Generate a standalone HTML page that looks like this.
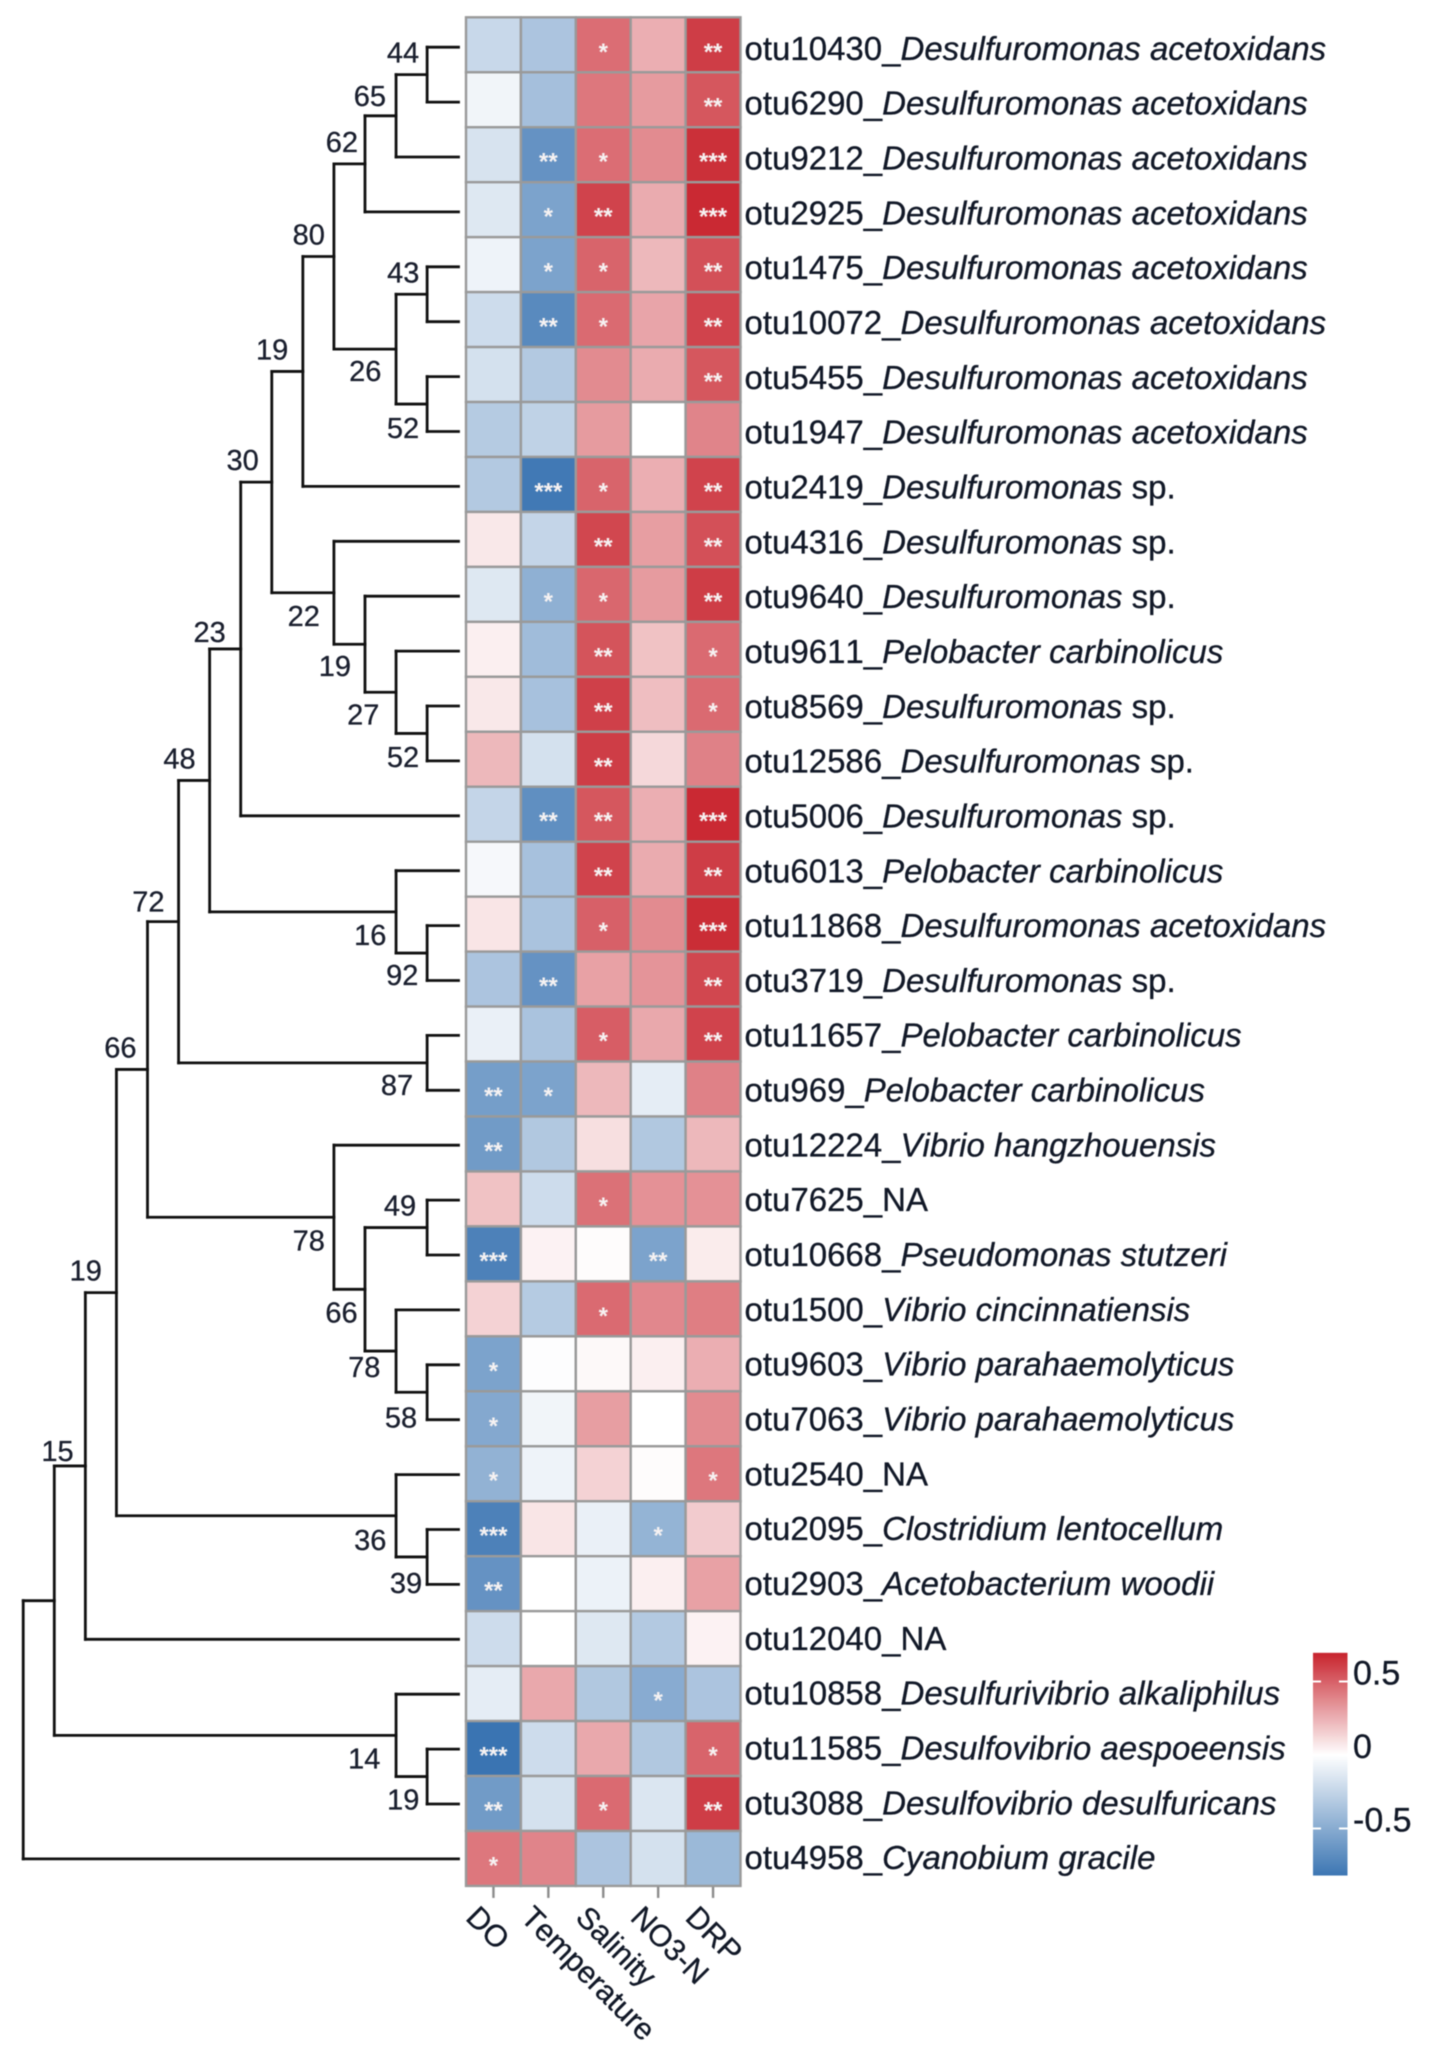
<!DOCTYPE html>
<html lang="en">
<head>
<meta charset="utf-8">
<title>OTU correlation heatmap with phylogeny</title>
<style>
html,body{margin:0;padding:0;background:#fff;}
svg{display:block;filter:blur(0.4px);}
text{font-family:"Liberation Sans",Arial,sans-serif;fill:#111827;stroke:#111827;stroke-width:0.3px;font-kerning:none;}
</style>
</head>
<body>
<svg id="chart" xmlns="http://www.w3.org/2000/svg" width="1429" height="2055" viewBox="0 0 1429 2055">
<defs><linearGradient id="legend-gradient" x1="0" y1="0" x2="0" y2="1"></linearGradient></defs>
<rect width="1429" height="2055" fill="#ffffff"></rect>
</svg>
<script>
var variables = ['DO','Temperature','Salinity','NO3-N','DRP'];
var otuIds = ['otu10430','otu6290','otu9212','otu2925','otu1475','otu10072','otu5455','otu1947','otu2419','otu4316','otu9640','otu9611','otu8569','otu12586','otu5006','otu6013','otu11868','otu3719','otu11657','otu969','otu12224','otu7625','otu10668','otu1500','otu9603','otu7063','otu2540','otu2095','otu2903','otu12040','otu10858','otu11585','otu3088','otu4958'];
var speciesNames = ['Desulfuromonas acetoxidans','Desulfuromonas acetoxidans','Desulfuromonas acetoxidans','Desulfuromonas acetoxidans','Desulfuromonas acetoxidans','Desulfuromonas acetoxidans','Desulfuromonas acetoxidans','Desulfuromonas acetoxidans','Desulfuromonas sp.','Desulfuromonas sp.','Desulfuromonas sp.','Pelobacter carbinolicus','Desulfuromonas sp.','Desulfuromonas sp.','Desulfuromonas sp.','Pelobacter carbinolicus','Desulfuromonas acetoxidans','Desulfuromonas sp.','Pelobacter carbinolicus','Pelobacter carbinolicus','Vibrio hangzhouensis','NA','Pseudomonas stutzeri','Vibrio cincinnatiensis','Vibrio parahaemolyticus','Vibrio parahaemolyticus','NA','Clostridium lentocellum','Acetobacterium woodii','NA','Desulfurivibrio alkaliphilus','Desulfovibrio aespoeensis','Desulfovibrio desulfuricans','Cyanobium gracile'];
var valuesDO = [-.23,-.06,-.17,-.14,-.07,-.21,-.18,-.31,-.32,.07,-.14,.05,.07,.22,-.25,-.04,.08,-.35,-.09,-.58,-.6,.19,-.75,.14,-.55,-.52,-.46,-.75,-.65,-.21,-.11,-.83,-.6,.42];
var valuesTemperature = [-.35,-.38,-.65,-.55,-.55,-.7,-.32,-.27,-.8,-.25,-.47,-.4,-.37,-.18,-.67,-.37,-.36,-.65,-.36,-.55,-.33,-.21,.04,-.31,-.01,-.06,-.07,.08,0,0,.27,-.21,-.18,.38];
var valuesSalinity = [.45,.42,.45,.58,.48,.46,.36,.31,.48,.57,.47,.53,.59,.6,.52,.58,.49,.29,.5,.22,.1,.44,.01,.46,.02,.3,.14,-.09,-.08,-.14,-.33,.27,.46,-.35];
var valuesNO3 = [.25,.31,.36,.26,.22,.28,.26,0,.25,.3,.31,.19,.2,.12,.25,.26,.36,.33,.27,-.11,-.33,.34,-.55,.37,.05,0,.01,-.45,.05,-.32,-.5,-.33,-.15,-.18];
var valuesDRP = [.6,.52,.64,.66,.54,.58,.52,.38,.58,.54,.6,.46,.46,.39,.66,.6,.65,.57,.58,.39,.22,.34,.06,.4,.25,.36,.42,.16,.29,.04,-.35,.48,.6,-.42];
var starsDO = [0,0,0,0,0,0,0,0,0,0,0,0,0,0,0,0,0,0,0,2,2,0,3,0,1,1,1,3,2,0,0,3,2,1];
var starsTemperature = [0,0,2,1,1,2,0,0,3,0,1,0,0,0,2,0,0,2,0,1,0,0,0,0,0,0,0,0,0,0,0,0,0,0];
var starsSalinity = [1,0,1,2,1,1,0,0,1,2,1,2,2,2,2,2,1,0,1,0,0,1,0,1,0,0,0,0,0,0,0,0,1,0];
var starsNO3 = [0,0,0,0,0,0,0,0,0,0,0,0,0,0,0,0,0,0,0,0,0,0,2,0,0,0,0,1,0,0,1,0,0,0];
var starsDRP = [2,2,3,3,2,2,2,0,2,2,2,1,1,0,3,2,3,2,2,0,0,0,0,0,0,0,1,0,0,0,0,1,2,0];
var matrixValues = [valuesDO, valuesTemperature, valuesSalinity, valuesNO3, valuesDRP];
var matrixStars = [starsDO, starsTemperature, starsSalinity, starsNO3, starsDRP];
var legendTicks = [0.5, 0, -0.5];
var legendTickLabels = ['0.5','0','-0.5'];
var legendMax = 0.695;
var legendMin = -0.82;

/* Tree: numbers are leaf indices; label, placement (-1 above / +1 below) are the printed bootstrap annotations */
function clade(label, side, gap, off, a, b){ return {label:label, side:side, gap:gap, off:off, kids:[a,b]}; }
var treeRoot =
 clade('', 0,0,0,
  clade('', 0,0,0,
   clade('15',-1,11.7,15,
    clade('19',-1,14.6,22,
     clade('66',-1,11,22,
      clade('72',-1,14,20,
       clade('48',-1,14,22,
        clade('23',-1,15,17,
         clade('30',-1,13,22,
          clade('19',-1,14.6,22,
           clade('80',-1,9,22,
            clade('62',-1,7,22,
             clade('65',-1,10,20,
              clade('44',-1,8,22,0,1),
              2),
             3),
            clade('26',1,14.7,22,
             clade('43',-1,7.7,22,4,5),
             clade('52',1,8,23.7,6,7))),
           8),
          clade('22',1,14,23,
           9,
           clade('19',1,14,22,
            10,
            clade('27',1,16.7,22,
             11,
             clade('52',1,8,23.7,12,13))))),
         14),
        clade('16',1,9.7,23,
         15,
         clade('92',1,8.7,22,16,17))),
       clade('87',1,14,22,18,19)),
      clade('78',1,9,23,
       20,
       clade('66',1,7.3,23,
        clade('49',-1,11,22,21,22),
        clade('78',1,15.7,16,
         23,
         clade('58',1,10,25,24,25))))),
     clade('36',1,9.7,24,
      26,
      clade('39',1,5,26,27,28))),
    29),
   clade('14',1,15.7,23,
    30,
    clade('19',1,7.7,23,31,32))),
  33);

var svg = document.getElementById('chart');
var NS = 'http://www.w3.org/2000/svg';
var gridLeft = 466, colWidth = 54.9, gridTop = 17.3, rowHeight = 54.96;
var leafEnd = 458.5, depthStep = 31.07, leafTop = 47.2, leafStep = 54.9;
var labelTop = 59.8, labelStep = 54.83;

function xCol(c){ return gridLeft + c * colWidth; }
function yRow(r){ return gridTop + r * rowHeight; }
function xDepth(d){ return 458.2 - d * depthStep; }
function yLeaf(i){ return leafTop + i * leafStep; }
function yLabel(i){ return labelTop + i * labelStep; }
function legendY(v){ return 1755 - v * 147; }

var posColor = [200,35,45], negColor = [58,116,178];
function colorFor(v){
  var target = v >= 0 ? posColor : negColor;
  var extent = v >= 0 ? 0.68 : -0.83;
  var f = Math.min(1, v / extent);
  return 'rgb(' + target.map(function(t){ return Math.round(255 + (t - 255) * f); }).join(',') + ')';
}
function make(tag, attrs, parent, txt){
  var el = document.createElementNS(NS, tag);
  for (var k in attrs) el.setAttribute(k, attrs[k]);
  if (txt !== undefined) el.textContent = txt;
  (parent || svg).appendChild(el);
  return el;
}

/* heatmap */
var cellLayer = make('g', {fill:'none'});


matrixValues.forEach(function(series, c){
  series.forEach(function(v, r){
    var cell = make('rect', {x:xCol(c), y:yRow(r), width:colWidth, height:rowHeight, fill:colorFor(v), stroke:'#9a9a9a', 'stroke-width':2.4}, cellLayer);
    
    
    var n = matrixStars[c][r];
    if (n > 0) {
      var star = make('text', {x:xCol(c)+colWidth/2, y:yRow(r)+rowHeight/2+15, 'text-anchor':'middle', 'font-size':24, 'font-weight':'bold', style:'fill:#f6f2f2;stroke:none'}, cellLayer, '***'.slice(0, n));
      
      
    }
  });
});

/* column ticks and labels */
variables.forEach(function(name, c){
  var cx = xCol(c) + colWidth/2;
  var tick = make('line', {x1:cx, x2:cx, y1:yRow(34)+1, y2:yRow(34)+12, stroke:'#8c8c8c', 'stroke-width':2.4});
  
  
  var lx = cx - 29, ly = 1919;
  var lab = make('text', {x:lx, y:ly, 'font-size':30.5, transform:'rotate(45 ' + lx + ' ' + ly + ')'}, svg, name);
  
  
});

/* row labels */
otuIds.forEach(function(id, r){
  var t = make('text', {x:744.5, y:yLabel(r), 'font-size':33});
  
  
  make('tspan', {}, t, id + '_');
  var sp = speciesNames[r];
  if (sp === 'NA') {
    make('tspan', {}, t, 'NA');
  } else if (/ sp\.$/.test(sp)) {
    make('tspan', {'font-style':'italic'}, t, sp.slice(0, -4));
    make('tspan', {}, t, ' sp.');
  } else {
    make('tspan', {'font-style':'italic'}, t, sp);
  }
});

/* dendrogram */
var treeLayer = make('g', {stroke:'#111111', 'stroke-width':2.8, fill:'none', 'stroke-linecap':'square'});


function layout(node){
  if (typeof node === 'number') return {x:leafEnd, y:yLeaf(node), depth:0};
  var a = layout(node.kids[0]), b = layout(node.kids[1]);
  var depth = Math.max(a.depth, b.depth) + 1;
  var x = xDepth(depth), y = (a.y + b.y) / 2;
  var spine = make('line', {x1:x, x2:x, y1:a.y, y2:b.y}, treeLayer);
  
  
  [a, b].forEach(function(k){
    var branch = make('line', {x1:x, x2:k.x, y1:k.y, y2:k.y}, treeLayer);
    
    
  });
  if (node.label) {
    var nl = make('text', {x:x - node.gap, y:y + node.side * node.off + 10, 'text-anchor':'end', 'font-size':29, style:'fill:#1a1f2e;stroke:#1a1f2e'}, svg, node.label);
    
    
  }
  return {x:x, y:y, depth:depth};
}
layout(treeRoot);

/* colour legend */
var grad = document.getElementById('legend-gradient');
[legendMax, 0, legendMin].forEach(function(v){
  var offset = (legendY(v) - legendY(legendMax)) / (legendY(legendMin) - legendY(legendMax));
  make('stop', {offset:offset, 'stop-color':colorFor(v)}, grad);
});
var bar = make('rect', {x:1313, y:legendY(legendMax), width:34.5, height:legendY(legendMin)-legendY(legendMax), fill:'url(#legend-gradient)'});


legendTicks.forEach(function(v, i){
  var y = legendY(v);
  var left = make('line', {x1:1313, x2:1321, y1:y, y2:y, stroke:'#ffffff', 'stroke-width':2});
  
  
  var right = make('line', {x1:1339, x2:1347.5, y1:y, y2:y, stroke:'#ffffff', 'stroke-width':2});
  
  
  var lab = make('text', {x:1353, y:y + 3, 'font-size':34}, svg, legendTickLabels[i]);
  
  
});
</script>
</body>
</html>
